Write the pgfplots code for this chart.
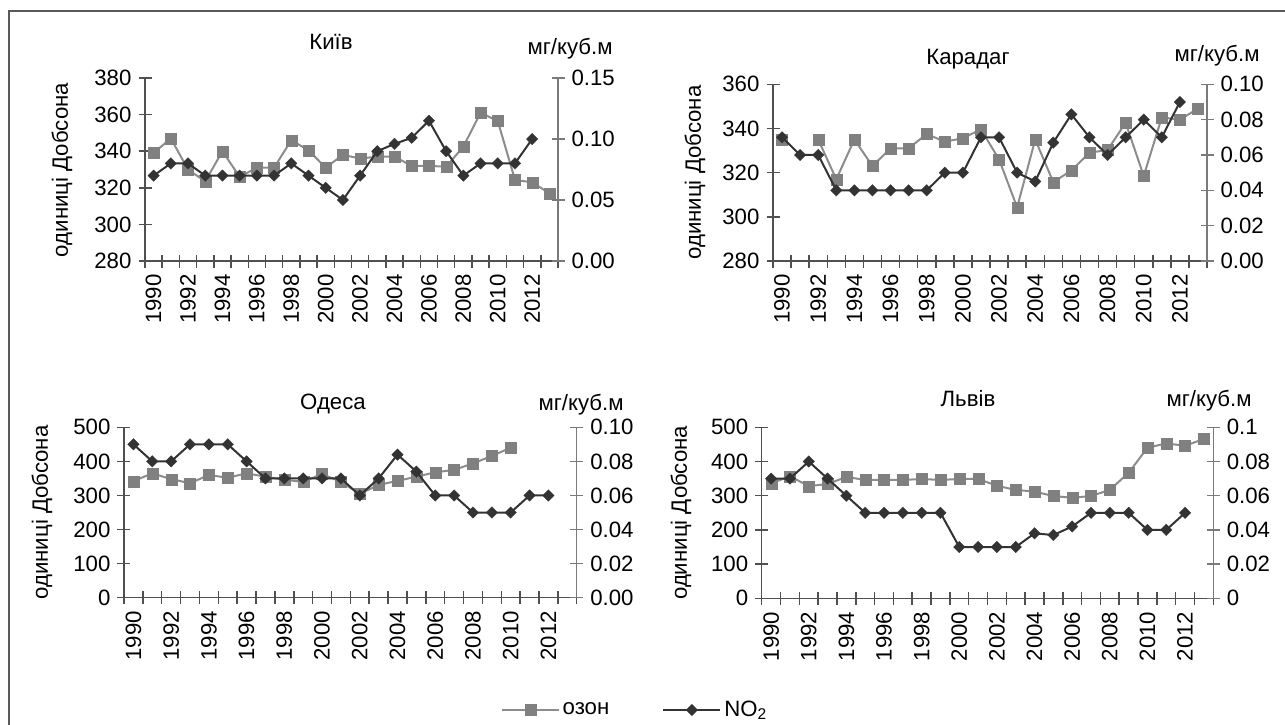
\documentclass[border=0pt]{standalone}
\usepackage{fontspec}
\setmainfont{Liberation Sans}
\usepackage{pgfplots}
\pgfplotsset{compat=1.18}

\definecolor{ozcol}{HTML}{808080}
\definecolor{ozline}{HTML}{8C8C8C}
\definecolor{nocol}{HTML}{333333}
\definecolor{axcol}{HTML}{505050}
\definecolor{axcol2}{HTML}{7A7A7A}

\newcommand\chartfont{\fontsize{11.1}{13}\selectfont}
\tikzset{lbl/.style={font=\chartfont, inner sep=0pt}}

\pgfplotsset{
  base/.style={
    scale only axis,
    anchor=south west,
    xmin=1989.5, xmax=2013.5,
    tick align=center,
    font=\chartfont,
    tick label style={font=\chartfont},
    /pgf/number format/assume math mode=true,
    unbounded coords=jump,
    clip=false,
  },
  leftax/.style={base,
    axis x line*=bottom, axis y line*=left,
    axis line style={axcol, line width=0.75pt, -},
    major tick length=6.5pt,
    minor tick length=6.5pt,
    xtick={1990,1992,...,2012},
    major x tick style={draw=none},
    minor xtick={1989.5,1990.5,...,2013.5},
    tick style={axcol, line width=0.75pt},
    xticklabel style={rotate=90, anchor=east, /pgf/number format/set thousands separator={}},
    yticklabel style={/pgf/number format/set thousands separator={}},
  },
  rightax/.style={base,
    axis x line=none, axis y line*=right,
    xtick=\empty,
    axis line style={axcol2, line width=0.75pt, -},
    major tick length=6.5pt,
    tick style={axcol2, line width=0.75pt},
  },
  ozone/.style={ozline, line width=1pt, mark=square*, mark size=2.75pt,
    mark options={fill=ozcol, draw=ozcol, line width=0.1pt}},
  no2/.style={nocol, line width=1pt, mark=square*, mark size=2.05pt,
    mark options={rotate=45, fill=nocol, draw=nocol, line width=0.1pt}},
}

\begin{document}
\begin{tikzpicture}
\useasboundingbox (0pt,0pt) rectangle (642.5pt,-362pt);
\draw[black!65, line width=0.75pt] (4.5pt,-5.5pt) rectangle (700pt,-400pt);

% ---------------- Київ ----------------
\begin{axis}[leftax, at={(72.5pt,-130.5pt)}, width=206.5pt, height=91.5pt,
  ymin=280, ymax=380, ytick={280,300,...,380}]
\addplot[ozone] coordinates {
 (1990,339) (1991,347) (1992,330) (1993,323.5) (1994,340) (1995,326)
 (1996,331) (1997,331) (1998,346) (1999,340.5) (2000,331) (2001,338)
 (2002,336) (2003,337) (2004,337) (2005,332) (2006,332) (2007,331.5)
 (2008,342.5) (2009,361) (2010,356.5) (2011,324.3) (2012,323) (2013,317)};
\end{axis}
\begin{axis}[rightax, at={(72.5pt,-130.5pt)}, width=206.5pt, height=91.5pt,
  ymin=0, ymax=0.15, ytick={0,0.05,0.10,0.15},
  yticklabel style={/pgf/number format/fixed, /pgf/number format/fixed zerofill, /pgf/number format/precision=2}]
\addplot[no2] coordinates {
 (1990,0.07) (1991,0.08) (1992,0.08) (1993,0.07) (1994,0.07) (1995,0.07)
 (1996,0.07) (1997,0.07) (1998,0.08) (1999,0.07) (2000,0.06) (2001,0.05)
 (2002,0.07) (2003,0.09) (2004,0.096) (2005,0.101) (2006,0.115) (2007,0.09)
 (2008,0.07) (2009,0.08) (2010,0.08) (2011,0.08) (2012,0.10)};
\end{axis}

% ---------------- Карадаг ----------------
\begin{axis}[leftax, at={(386.5pt,-130.5pt)}, width=217pt, height=88.35pt,
  ymin=280, ymax=360, ytick={280,300,...,360}]
\addplot[ozone] coordinates {
 (1990,335) (1991,nan) (1992,335) (1993,317) (1994,335) (1995,323)
 (1996,331) (1997,331) (1998,337.5) (1999,334) (2000,335.6) (2001,339.6)
 (2002,326) (2003,304.3) (2004,335) (2005,315.7) (2006,321) (2007,329)
 (2008,330.3) (2009,342.6) (2010,318.5) (2011,345) (2012,344) (2013,349)};
\end{axis}
\begin{axis}[rightax, at={(386.5pt,-130.5pt)}, width=217pt, height=88.35pt,
  ymin=0, ymax=0.10, ytick={0,0.02,...,0.10},
  yticklabel style={/pgf/number format/fixed, /pgf/number format/fixed zerofill, /pgf/number format/precision=2}]
\addplot[no2] coordinates {
 (1990,0.07) (1991,0.06) (1992,0.06) (1993,0.04) (1994,0.04) (1995,0.04)
 (1996,0.04) (1997,0.04) (1998,0.04) (1999,0.05) (2000,0.05) (2001,0.07)
 (2002,0.07) (2003,0.05) (2004,0.045) (2005,0.067) (2006,0.083) (2007,0.07)
 (2008,0.06) (2009,0.07) (2010,0.08) (2011,0.07) (2012,0.09)};
\end{axis}

% ---------------- Одеса ----------------
\begin{axis}[leftax, at={(62pt,-298.85pt)}, width=226.35pt, height=85.2pt,
  ymin=0, ymax=500, ytick={0,100,...,500},
  legend columns=2,
  legend style={at={(1.1299,-0.659)}, anchor=center, draw=none, fill=none,
    font=\chartfont,
    nodes={inner sep=1.5pt},
    /tikz/every even column/.append style={column sep=25pt}},
  legend image code/.code={\draw[mark repeat=2,mark phase=2,#1]
    plot coordinates {(0pt,0pt) (14.25pt,0pt) (28.5pt,0pt)};}]
\addplot[ozone] coordinates {
 (1990,342) (1991,365) (1992,348) (1993,336) (1994,360) (1995,352)
 (1996,365) (1997,355) (1998,346) (1999,340) (2000,363) (2001,340)
 (2002,305) (2003,331) (2004,343) (2005,355) (2006,368) (2007,375)
 (2008,394) (2009,416) (2010,440)};
\addlegendentry{озон}
\addlegendimage{no2}
\addlegendentry{NO\textsubscript{2}}
\end{axis}
\begin{axis}[rightax, at={(62pt,-298.85pt)}, width=226.35pt, height=85.2pt,
  ymin=0, ymax=0.10, ytick={0,0.02,...,0.10},
  yticklabel style={/pgf/number format/fixed, /pgf/number format/fixed zerofill, /pgf/number format/precision=2}]
\addplot[no2] coordinates {
 (1990,0.09) (1991,0.08) (1992,0.08) (1993,0.09) (1994,0.09) (1995,0.09)
 (1996,0.08) (1997,0.07) (1998,0.07) (1999,0.07) (2000,0.07) (2001,0.07)
 (2002,0.06) (2003,0.07) (2004,0.084) (2005,0.074) (2006,0.06) (2007,0.06)
 (2008,0.05) (2009,0.05) (2010,0.05) (2011,0.06) (2012,0.06)};
\end{axis}

% ---------------- Львів ----------------
\begin{axis}[leftax, at={(380.85pt,-299.15pt)}, width=225.8pt, height=85.5pt,
  ymin=0, ymax=500, ytick={0,100,...,500}]
\addplot[ozone] coordinates {
 (1990,336) (1991,357) (1992,328) (1993,334) (1994,355) (1995,346)
 (1996,346) (1997,346) (1998,349) (1999,346) (2000,349) (2001,349)
 (2002,329) (2003,317) (2004,312) (2005,299) (2006,294) (2007,299)
 (2008,317) (2009,367) (2010,440) (2011,453) (2012,446) (2013,466)};
\end{axis}
\begin{axis}[rightax, at={(380.85pt,-299.15pt)}, width=225.8pt, height=85.5pt,
  ymin=0, ymax=0.1, ytick={0,0.02,...,0.1},
  yticklabel style={/pgf/number format/fixed, /pgf/number format/precision=2}]
\addplot[no2] coordinates {
 (1990,0.07) (1991,0.07) (1992,0.08) (1993,0.07) (1994,0.06) (1995,0.05)
 (1996,0.05) (1997,0.05) (1998,0.05) (1999,0.05) (2000,0.03) (2001,0.03)
 (2002,0.03) (2003,0.03) (2004,0.038) (2005,0.037) (2006,0.042) (2007,0.05)
 (2008,0.05) (2009,0.05) (2010,0.04) (2011,0.04) (2012,0.05)};
\end{axis}

% titles, units and axis names
\node[lbl, anchor=base] at (165.5pt,-24.5pt) {Київ};
\node[lbl, anchor=base] at (285pt,-27.2pt) {мг/куб.м};
\node[lbl, rotate=90] at (31pt,-85pt) {одиниці Добсона};

\node[lbl, anchor=base] at (484pt,-32pt) {Карадаг};
\node[lbl, anchor=base] at (608.5pt,-30.5pt) {мг/куб.м};
\node[lbl, rotate=90] at (347.5pt,-86.3pt) {одиниці Добсона};

\node[lbl, anchor=base] at (166.5pt,-204.5pt) {Одеса};
\node[lbl, anchor=base] at (290.5pt,-205pt) {мг/куб.м};
\node[lbl, rotate=90] at (21pt,-256.25pt) {одиниці Добсона};

\node[lbl, anchor=base] at (484pt,-203pt) {Львів};
\node[lbl, anchor=base] at (604.5pt,-203.3pt) {мг/куб.м};
\node[lbl, rotate=90] at (340.5pt,-256.4pt) {одиниці Добсона};
\end{tikzpicture}
\end{document}
